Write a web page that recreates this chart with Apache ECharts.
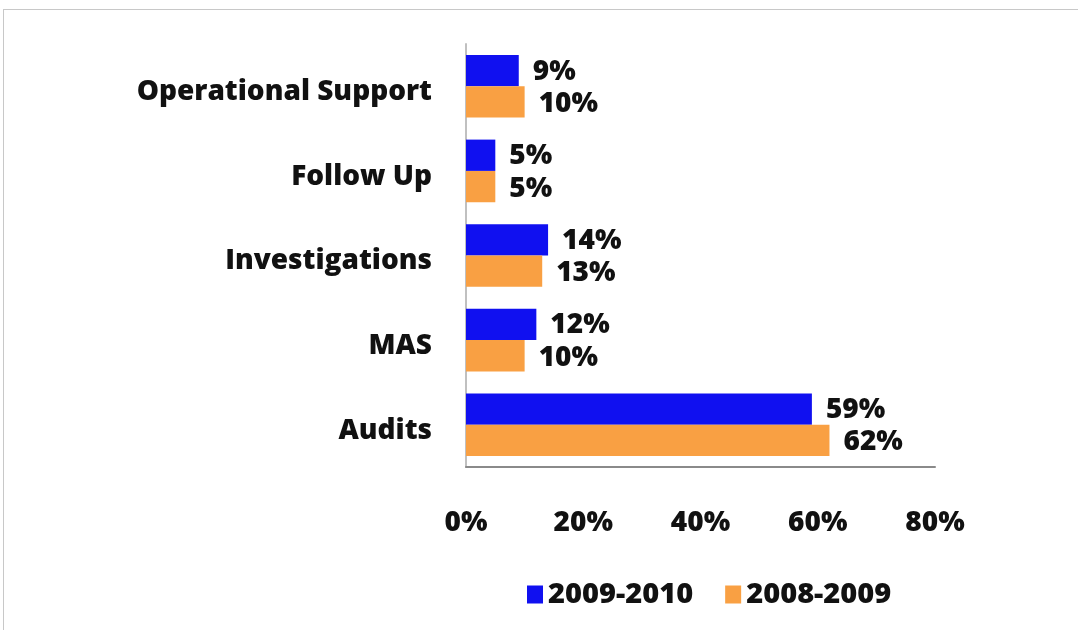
<!DOCTYPE html>
<html><head><meta charset="utf-8">
<script src="https://cdn.jsdelivr.net/npm/echarts@6/dist/echarts.min.js"></script>
<style>
html,body{margin:0;padding:0;background:#fff;}
#frame{position:absolute;left:3px;top:9px;width:1075px;height:621px;border-left:1px solid #c8c8c8;border-top:1px solid #c8c8c8;box-sizing:border-box;}
#main{position:absolute;left:0;top:0;width:1078px;height:630px;}
</style></head>
<body>
<div id="frame"></div>
<div id="main"></div>
<script>
const categories = ['Audits', 'MAS', 'Investigations', 'Follow Up', 'Operational Support'];
const series2009_2010 = [59, 12, 14, 5, 9];
const series2008_2009 = [62, 10, 13, 5, 10];
const xTicks = [0, 20, 40, 60, 80];

const font = '"Open Sans", sans-serif';
const labelStyle = {fontFamily: font, fontWeight: 800, fontSize: 28, color: '#111'};
const chart = echarts.init(document.getElementById('main'), null, {renderer: 'canvas'});
chart.setOption({
  animation: false,
  backgroundColor: 'transparent',
  grid: {left: 466, right: 143, top: 44, bottom: 163, containLabel: false},
  legend: {
    top: 575, left: 522,
    itemWidth: 16, itemHeight: 18, itemGap: 32,
    icon: 'rect',
    textStyle: Object.assign({}, labelStyle, {fontSize: 29}),
    data: ['2009-2010', '2008-2009']
  },
  xAxis: {
    type: 'value', min: xTicks[0], max: xTicks[xTicks.length - 1], interval: 20,
    axisLine: {show: true, lineStyle: {color: '#8a8a8a', width: 2}},
    axisTick: {show: false},
    splitLine: {show: false},
    axisLabel: Object.assign({formatter: '{value}%', margin: 42}, labelStyle)
  },
  yAxis: {
    type: 'category', data: categories,
    axisLine: {show: true, lineStyle: {color: '#c0c0c0', width: 2}},
    axisTick: {show: false},
    axisLabel: Object.assign({margin: 34, verticalAlign: 'top', lineHeight: 12}, labelStyle)
  },
  series: [
    {
      name: '2009-2010', type: 'bar', data: series2009_2010,
      itemStyle: {color: '#1010f0'},
      barGap: '0%', barCategoryGap: '26%',
      label: Object.assign({show: true, position: 'right', distance: 14, offset: [0, 1], formatter: '{c}%'}, labelStyle)
    },
    {
      name: '2008-2009', type: 'bar', data: series2008_2009,
      itemStyle: {color: '#f9a043'},
      barGap: '0%', barCategoryGap: '26%',
      label: Object.assign({show: true, position: 'right', distance: 14, offset: [0, 2], formatter: '{c}%'}, labelStyle)
    }
  ]
});
</script>
</body></html>
